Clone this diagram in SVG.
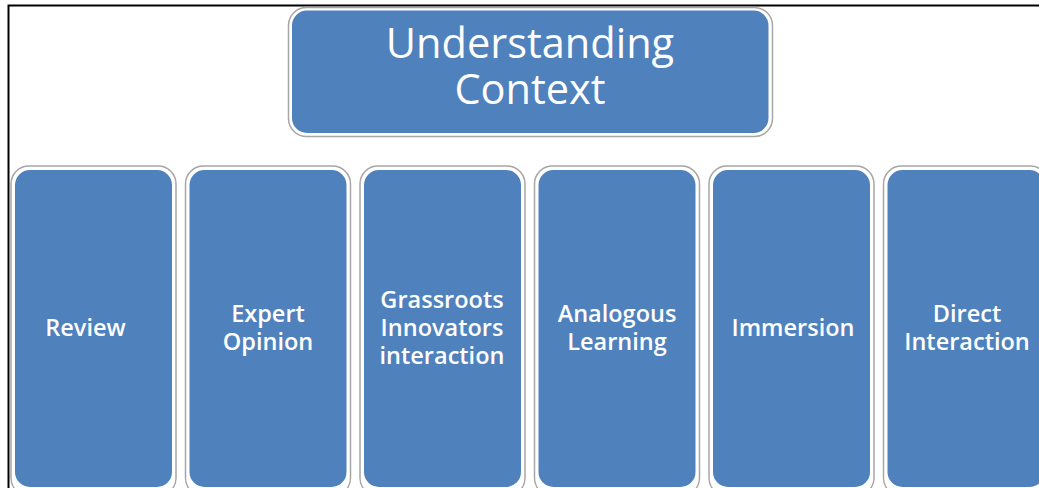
<svg xmlns="http://www.w3.org/2000/svg" width="1039" height="488" viewBox="0 0 1039 488">
<style>
.outer{fill:#fff;stroke:#a6a6a6;stroke-width:1.5}
.inner{fill:#4f81bd}
.t{fill:#fff;font-family:"Open Sans","Liberation Sans",sans-serif;font-weight:600;font-size:23.5px;text-anchor:middle}
.title{fill:#fff;font-family:"Open Sans","Liberation Sans",sans-serif;font-size:41.5px;text-anchor:middle}
</style>
<rect width="1039" height="488" fill="#fff"/>
<path d="M8.5 488 V5.5 H1039" fill="none" stroke="#000" stroke-width="2"/>
<g id="title">
<rect class="outer" x="288.5" y="7.5" width="484" height="129" rx="18"/>
<rect class="inner" x="292" y="10.5" width="476.5" height="122.5" rx="15"/>
<text class="title" x="530" y="58">Understanding</text>
<text class="title" x="530" y="104">Context</text>
</g>
<g id="connectors"></g>
<g id="review">
<rect class="outer" x="11" y="166" width="165" height="330" rx="18"/>
<rect class="inner" x="15" y="170" width="157" height="317" rx="15"/>
<text class="t" x="85.5" y="336">Review</text>
</g>
<g id="expert">
<rect class="outer" x="185.5" y="166" width="165" height="330" rx="18"/>
<rect class="inner" x="189.5" y="170" width="157" height="317" rx="15"/>
<text class="t" x="268" y="322">Expert</text>
<text class="t" x="268" y="349.5">Opinion</text>
</g>
<g id="grassroots">
<rect class="outer" x="360" y="166" width="165" height="330" rx="18"/>
<rect class="inner" x="364" y="170" width="157" height="317" rx="15"/>
<text class="t" x="442" y="308">Grassroots</text>
<text class="t" x="442" y="336">Innovators</text>
<text class="t" x="442" y="364">interaction</text>
</g>
<g id="analogous">
<rect class="outer" x="534.5" y="166" width="165" height="330" rx="18"/>
<rect class="inner" x="538.5" y="170" width="157" height="317" rx="15"/>
<text class="t" x="617" y="322">Analogous</text>
<text class="t" x="617" y="349.5">Learning</text>
</g>
<g id="immersion">
<rect class="outer" x="709" y="166" width="165" height="330" rx="18"/>
<rect class="inner" x="713" y="170" width="157" height="317" rx="15"/>
<text class="t" x="793" y="336">Immersion</text>
</g>
<g id="direct">
<rect class="outer" x="883.5" y="166" width="165" height="330" rx="18"/>
<rect class="inner" x="887.5" y="170" width="157" height="317" rx="15"/>
<text class="t" x="967" y="322">Direct</text>
<text class="t" x="967" y="349.5">Interaction</text>
</g>
</svg>
